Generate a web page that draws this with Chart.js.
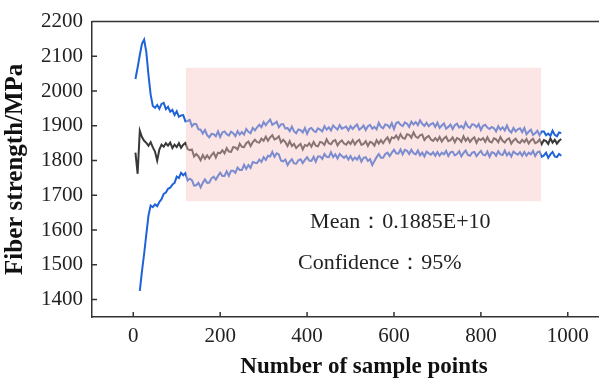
<!DOCTYPE html>
<html>
<head>
<meta charset="utf-8">
<script src="https://cdn.jsdelivr.net/npm/chart.js@4"></script>
<style>
  html, body { margin: 0; padding: 0; background: #fff; overflow: hidden; }
  #wrap { width: 640px; height: 381px; }
</style>
</head>
<body>
<div id="wrap"><canvas id="strength"></canvas></div>
<script>
// sample index
var samples = [5,10,15,20,25,30,35,40,45,50,55,60,65,70,75,80,85,90,95,100,
  105,110,115,120,125,130,135,140,145,150,155,160,165,170,175,180,185,190,195,200,
  205,210,215,220,225,230,235,240,245,250,255,260,265,270,275,280,285,290,295,300,
  305,310,315,320,325,330,335,340,345,350,355,360,365,370,375,380,385,390,395,400,
  405,410,415,420,425,430,435,440,445,450,455,460,465,470,475,480,485,490,495,500,
  505,510,515,520,525,530,535,540,545,550,555,560,565,570,575,580,585,590,595,600,
  605,610,615,620,625,630,635,640,645,650,655,660,665,670,675,680,685,690,695,700,
  705,710,715,720,725,730,735,740,745,750,755,760,765,770,775,780,785,790,795,800,
  805,810,815,820,825,830,835,840,845,850,855,860,865,870,875,880,885,890,895,900,
  905,910,915,920,925,930,935,940,945,950,955,960,965,970,975,980,985];

// upper confidence bound (MPa)
var upper = [2035,2068,2104,2136,2148,2112,2046,1990,1957,1952,1960,1949,1963,1966,1948,1955,1941,1946,1931,1942,
  1926,1930,1931,1913,1914,1917,1899,1906,1905,1890,1889,1878,1888,1873,1867,1877,1876,1870,1884,1868,
  1881,1884,1876,1872,1883,1879,1870,1885,1875,1882,1875,1891,1883,1879,1894,1887,1896,1903,1896,1911,
  1902,1911,1918,1903,1907,1912,1896,1904,1905,1892,1894,1885,1898,1884,1879,1890,1888,1881,1894,1877,
  1891,1894,1886,1882,1893,1889,1884,1899,1889,1896,1887,1901,1895,1889,1902,1892,1895,1898,1887,1899,
  1891,1898,1904,1889,1894,1901,1888,1899,1903,1892,1897,1890,1909,1897,1893,1904,1902,1895,1908,1891,
  1908,1911,1903,1899,1910,1906,1897,1912,1904,1911,1902,1916,1906,1900,1909,1899,1905,1908,1897,1909,
  1894,1901,1907,1892,1897,1904,1891,1902,1906,1895,1900,1893,1910,1898,1894,1905,1903,1896,1905,1888,
  1900,1903,1895,1891,1897,1893,1884,1899,1889,1896,1887,1901,1887,1881,1894,1884,1890,1893,1882,1894,
  1876,1883,1889,1874,1879,1886,1873,1884,1884,1873,1878,1871,1886,1874,1870,1881,1879];

// running mean (MPa)
var mean = [1823,1762,1886,1868,1857,1851,1843,1853,1838,1826,1800,1832,1846,1840,1850,1843,1852,1836,1846,1839,
  1850,1837,1846,1851,1833,1830,1832,1812,1819,1812,1801,1816,1805,1815,1806,1816,1823,1809,1823,1821,
  1830,1821,1836,1826,1825,1839,1838,1832,1849,1840,1839,1850,1855,1842,1853,1860,1853,1852,1863,1857,
  1869,1857,1867,1873,1861,1864,1870,1852,1860,1853,1842,1856,1842,1848,1836,1843,1848,1832,1845,1842,
  1850,1840,1854,1843,1841,1854,1852,1845,1861,1850,1847,1856,1859,1844,1853,1858,1849,1846,1855,1848,
  1859,1846,1855,1860,1845,1848,1856,1842,1854,1851,1843,1859,1849,1859,1850,1860,1867,1853,1867,1864,
  1872,1862,1876,1865,1863,1876,1874,1866,1881,1869,1865,1873,1875,1859,1867,1871,1861,1857,1865,1857,
  1868,1855,1864,1869,1856,1859,1867,1853,1865,1862,1854,1870,1857,1865,1854,1862,1867,1851,1863,1859,
  1865,1854,1867,1855,1852,1864,1861,1853,1868,1857,1852,1861,1864,1849,1858,1863,1854,1851,1860,1853,
  1862,1849,1858,1863,1850,1853,1861,1847,1859,1856,1848,1864,1852,1860,1849,1857,1862];

// lower confidence bound (MPa)
var lower = [null,null,1425,1482,1532,1588,1642,1671,1666,1674,1669,1681,1689,1704,1708,1719,1722,1731,1736,1754,
  1750,1765,1758,1764,1743,1748,1744,1728,1729,1736,1723,1736,1746,1736,1737,1749,1754,1745,1756,1765,
  1756,1756,1769,1756,1771,1771,1765,1780,1773,1773,1788,1776,1787,1779,1796,1794,1793,1803,1796,1810,
  1802,1814,1812,1825,1811,1821,1818,1800,1798,1803,1787,1797,1804,1792,1791,1801,1804,1793,1802,1810,
  1800,1799,1811,1797,1812,1812,1805,1819,1811,1810,1824,1810,1818,1806,1819,1813,1808,1814,1803,1813,
  1801,1809,1803,1813,1797,1808,1810,1799,1804,1787,1799,1810,1819,1808,1808,1819,1823,1813,1823,1831,
  1821,1820,1832,1818,1831,1828,1819,1831,1821,1818,1829,1815,1823,1812,1826,1821,1817,1824,1814,1825,
  1814,1823,1818,1828,1813,1824,1826,1815,1819,1827,1812,1822,1829,1816,1814,1823,1825,1813,1821,1828,
  1817,1815,1826,1811,1824,1822,1814,1827,1818,1816,1829,1815,1823,1812,1826,1821,1817,1824,1814,1825,
  1814,1823,1818,1828,1813,1824,1826,1811,1815,1823,1808,1818,1825,1812,1810,1819,1814];

// shaded band (data units)
var bandX = [121, 939];
var bandTop = 2067;
var bandBottom = 1683;

var xTicks = [0, 200, 400, 600, 800, 1000];
var yTicks = [1400, 1500, 1600, 1700, 1800, 1900, 2000, 2100, 2200];

var noteText = ['Mean\uFF1A0.1885E+10', 'Confidence\uFF1A95%'];
var noteX = [407, 379];
var noteY = [1623, 1506];

function pts(ys) {
  return samples.map(function(s, i) { return {x: s, y: ys[i]}; });
}

var decor = {
  id: 'decor',
  afterDraw: function(chart) {
    var ctx = chart.ctx, a = chart.chartArea, x = chart.scales.x, y = chart.scales.y;
    ctx.save();
    ctx.strokeStyle = '#333';
    ctx.lineWidth = 1.5;
    ctx.beginPath();
    ctx.moveTo(a.left, a.top);
    ctx.lineTo(a.right, a.top);
    xTicks.forEach(function(v) {
      var px = x.getPixelForValue(v);
      ctx.moveTo(px, a.bottom);
      ctx.lineTo(px, a.bottom - 5);
    });
    yTicks.forEach(function(v) {
      var py = y.getPixelForValue(v);
      ctx.moveTo(a.left, py);
      ctx.lineTo(a.left + 5, py);
    });
    ctx.stroke();

    ctx.fillStyle = '#222';
    ctx.font = '22px "Liberation Serif", serif';
    ctx.textBaseline = 'middle';
    ctx.textAlign = 'left';
    noteText.forEach(function(t, i) {
      ctx.fillText(t, x.getPixelForValue(noteX[i]), y.getPixelForValue(noteY[i]));
    });
    ctx.restore();
  }
};

function plain(v) { return String(v); }

function printChart() {
  var ctx = document.getElementById('strength').getContext('2d');
  new Chart(ctx, {
    type: 'line',
    data: {
      datasets: [{
        label: 'band',
        data: [{x: bandX[0], y: bandTop}, {x: bandX[1], y: bandTop}],
        fill: {value: bandBottom},
        backgroundColor: 'rgba(246,195,195,0.43)',
        borderWidth: 0,
        pointRadius: 0,
        order: 0
      }, {
        label: 'upper',
        data: pts(upper),
        borderColor: '#1f63d8',
        borderWidth: 2,
        pointRadius: 0,
        order: 1
      }, {
        label: 'mean',
        data: pts(mean),
        borderColor: '#383838',
        borderWidth: 2,
        pointRadius: 0,
        order: 2
      }, {
        label: 'lower',
        data: pts(lower),
        borderColor: '#1f63d8',
        borderWidth: 2,
        pointRadius: 0,
        order: 3
      }]
    },
    options: {
      responsive: true,
      maintainAspectRatio: false,
      animation: false,
      layout: { padding: { top: 19, right: 4, left: 0, bottom: 0 } },
      plugins: { legend: { display: false }, tooltip: { enabled: false } },
      scales: {
        x: {
          type: 'linear',
          min: -95,
          max: 1157,
          afterBuildTicks: function(s) { s.ticks = xTicks.map(function(v) { return {value: v}; }); },
          afterFit: function(s) { s.height = 64; },
          grid: { drawOnChartArea: false, drawTicks: false },
          border: { display: true, color: '#333', width: 1.5 },
          ticks: { color: '#222', padding: 7, maxRotation: 0, callback: plain,
                   font: { family: '"Liberation Serif", serif', size: 21 } },
          title: {
            display: true,
            text: 'Number of sample points',
            color: '#111',
            padding: { top: 0, bottom: 0 },
            font: { family: '"Liberation Serif", serif', size: 23, weight: 'bold' }
          }
        },
        y: {
          min: 1350,
          max: 2200,
          afterBuildTicks: function(s) { s.ticks = yTicks.map(function(v) { return {value: v}; }); },
          afterFit: function(s) { s.width = 92; },
          grid: { drawOnChartArea: false, drawTicks: false },
          border: { display: true, color: '#333', width: 1.5 },
          ticks: { color: '#222', padding: 9, callback: plain,
                   font: { family: '"Liberation Serif", serif', size: 21 } },
          title: {
            display: true,
            text: 'Fiber strength/MPa',
            color: '#111',
            padding: { top: 1, bottom: 0 },
            font: { family: '"Liberation Serif", serif', size: 25, weight: 'bold' }
          }
        }
      }
    },
    plugins: [decor]
  });
}

printChart();
</script>
</body>
</html>
